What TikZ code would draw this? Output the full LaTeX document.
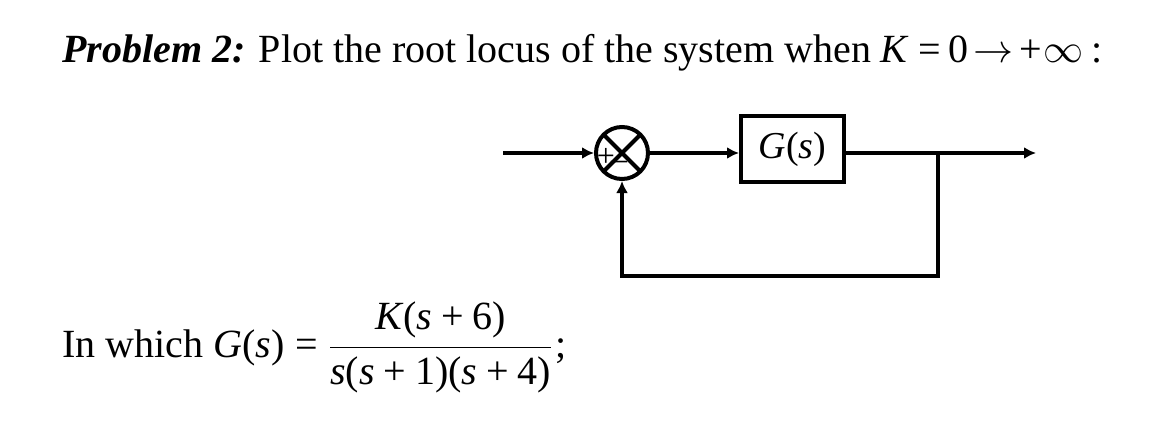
\RequirePackage{fix-cm}
\documentclass[tikz,border=0pt]{standalone}
\usepackage{fontspec}
\setmainfont{Liberation Serif}
\usetikzlibrary{arrows.meta,positioning}
\newcommand{\vi}[1]{\mbox{\textit{#1}}}
\newcommand{\vr}[1]{\mbox{#1}}
\newcommand{\pl}{\mathbin{\mbox{+}}}
\newcommand{\eq}{\mathrel{\mbox{=}}}
\medmuskip=4mu\relax
\thickmuskip=5mu\relax
\tikzset{
 sig/.style={line width=4pt, -{Latex[length=12pt,width=12pt]}},
 wire/.style={line width=4pt},
 block/.style={draw, line width=4pt, minimum width=103pt, minimum height=66pt, inner sep=0pt, font=\fontsize{38}{42}\selectfont},
 sumnode/.style={draw, circle, line width=4pt, minimum size=52pt, inner sep=0pt},
 sign/.style={inner sep=0pt, font=\fontsize{32}{36}\selectfont},
 txt/.style={anchor=base west, inner sep=0pt, font=\fontsize{40}{46}\selectfont}
}
\begin{document}
\begin{tikzpicture}[x=1pt, y=-1pt, line join=miter]
 \useasboundingbox (0,0) rectangle (1171,439);
 % title
 \node[txt] (title) at (62,62) {\textbf{\textit{Problem 2:}} Plot the root locus of the system when $\vi{K}\hspace{9pt}{\vr{=}}\hspace{8pt}\vr{0}\hspace{5pt}{\rightarrow}\hspace{6pt}{\vr{+}}\hspace{1pt}{\infty}\hspace{8pt}\vr{:}$};
 % block diagram
 \coordinate (in) at (503,153);
 \node[sumnode] (sum) at (622,153) {};
 \draw[wire] (sum.center) ++(45:26) -- ++(225:52);
 \draw[wire] (sum.center) ++(135:26) -- ++(-45:52);
 \node[sign] (plus) at (606,157) {+};
 \node[sign] (minus) at (619,165) {–};
 \node[block] (plant) at (792.5,149) {\textit{G}(\textit{s})};
 \coordinate (branch) at (938,153);
 \coordinate (out) at (1036,153);
 \coordinate (low) at (938,276);
 \draw[sig] (in) -- (sum);
 \draw[sig] (sum) -- (plant.west |- sum);
 \draw[sig] (plant.east |- branch) -- (out);
 \draw[sig] (branch) -- (low) -| (sum.south);
 % transfer function
 \node[txt] (tf) at (62,357) {In which $\vi{G}\vr{(}\vi{s}\vr{)} \eq \displaystyle\frac{\vi{K}\vr{(}\vi{s}\pl\vr{6)}}{\vi{s}\vr{(}\vi{s}\pl\vr{1)(}\vi{s}\pl\vr{4)}}$\hspace{3pt};};
\end{tikzpicture}
\end{document}
